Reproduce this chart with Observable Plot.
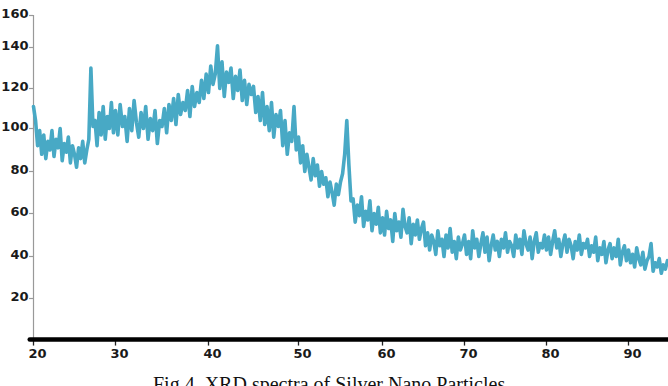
<!DOCTYPE html>
<html>
<head>
<meta charset="utf-8">
<script src="https://cdn.jsdelivr.net/npm/d3@7"></script>
<script src="https://cdn.jsdelivr.net/npm/@observablehq/plot@0.6"></script>
<style>
  html, body { margin: 0; padding: 0; background: #fff; overflow: hidden; }
  #wrap { position: relative; width: 668px; height: 386px; }
  #caption { position: absolute; left: 153px; top: 374px; font: 20px/20px "Liberation Serif", "Times New Roman", serif; color: #111; white-space: nowrap; }
</style>
</head>
<body>
<div id="wrap"><div id="chart"></div><div id="caption">Fig 4. XRD spectra of Silver Nano Particles</div></div>
<script>
// 2θ scan: start angle and step (degrees)
const startAngle = 20;
const stepAngle = 0.25;

// Intensity, 5° per row (20 readings each)
const intensity = [
  111, 104, 92, 99, 88, 97, 86, 94, 90, 99, 87, 95, 91, 100, 85, 93, 89, 96, 84, 92,
  88, 82, 91, 86, 94, 84, 90, 95, 130, 101, 104, 92, 108, 97, 111, 95, 106, 100, 113, 98,
  109, 97, 112, 101, 106, 94, 110, 99, 114, 103, 96, 108, 100, 111, 95, 105, 99, 109, 93, 104,
  101, 110, 98, 112, 104, 115, 102, 117, 107, 113, 109, 119, 106, 121, 111, 118, 113, 124, 115, 127,
  118, 131, 122, 127, 141, 120, 133, 116, 128, 123, 130, 115, 126, 119, 129, 114, 124, 112, 122, 117,
  121, 108, 116, 104, 118, 102, 111, 99, 113, 96, 107, 101, 109, 92, 104, 88, 98, 94, 111, 90,
  96, 84, 92, 80, 88, 82, 76, 86, 78, 83, 73, 80, 74, 77, 68, 75, 70, 64, 74, 69,
  75, 79, 88, 104, 83, 66, 67, 56, 64, 59, 68, 54, 61, 57, 66, 52, 60, 55, 63, 51,
  58, 50, 61, 53, 57, 47, 60, 52, 56, 49, 62, 54, 51, 58, 46, 55, 50, 57, 48, 53,
  56, 45, 51, 43, 50, 47, 41, 52, 45, 48, 40, 50, 44, 53, 42, 47, 39, 49, 43, 46,
  50, 41, 47, 39, 52, 44, 48, 40, 46, 51, 42, 49, 38, 45, 50, 43, 47, 40, 48, 44,
  51, 42, 47, 45, 40, 50, 44, 48, 41, 52, 46, 43, 49, 39, 47, 51, 42, 46, 44, 50,
  43, 49, 41, 47, 52, 44, 48, 40, 46, 50, 42, 48, 45, 39, 47, 43, 50, 41, 46, 44,
  48, 40, 45, 42, 49, 38, 44, 41, 47, 37, 43, 46, 39, 44, 40, 48, 36, 42, 45, 38,
  43, 37, 41, 35, 44, 39, 36, 42, 34, 38, 40, 46, 33, 37, 35, 39, 32, 36, 34, 38
];

const xTicks = [20, 30, 40, 50, 60, 70, 80, 90];
const yTicks = [20, 40, 60, 80, 100, 120, 140, 160];

const data = intensity.map((v, i) => ({theta: startAngle + i * stepAngle, intensity: v}));

// The original axes are slightly uneven: map the tick values onto where they sit
const xWarp = d3.scaleLinear()
  .domain([20, 30, 40, 50, 60, 70, 80, 90, 95])
  .range([33, 115, 208, 298, 382, 464, 546, 628, 669]);
const yWarp = d3.scaleLinear()
  .domain([0, 20, 40, 60, 80, 100, 120, 140, 160])
  .range([339, 298, 256, 213, 171, 128, 88, 47, 15]);

const chart = Plot.plot({
  width: 668,
  height: 368,
  marginLeft: 33,
  marginRight: 0,
  marginTop: 15,
  marginBottom: 29,
  style: {fontFamily: "DejaVu Sans", fontWeight: "bold", fontSize: "13px", background: "#fff", overflow: "visible"},
  x: {transform: xWarp, domain: [33, 668], axis: null},
  y: {transform: yWarp, domain: [339, 15], axis: null},
  marks: [
    Plot.ruleX([20], {y1: 0, y2: 160, stroke: "#999", strokeWidth: 1.2}),
    Plot.ruleY(yTicks, {x1: 19.52, x2: 20, stroke: "#999", strokeWidth: 1.2}),
    Plot.text(yTicks, {x: 20, y: d => d, text: d => String(d), textAnchor: "end", dx: -5, dy: -2, fill: "#1a1a1a"}),
    Plot.line(data, {x: "theta", y: "intensity", stroke: "#48a9c5", strokeWidth: 3.6, strokeLinejoin: "round"}),
    Plot.ruleX(xTicks, {y1: 0, y2: -3.2, stroke: "#222", strokeWidth: 1.3}),
    Plot.ruleY([0], {x1: 19.6, x2: 95, stroke: "#000", strokeWidth: 4.5, strokeLinecap: "round"}),
    Plot.text(xTicks, {x: d => d, y: 0, text: d => String(d), dx: 4, dy: 14, fill: "#1a1a1a"})
  ]
});
document.getElementById("chart").appendChild(chart);
</script>
</body>
</html>
